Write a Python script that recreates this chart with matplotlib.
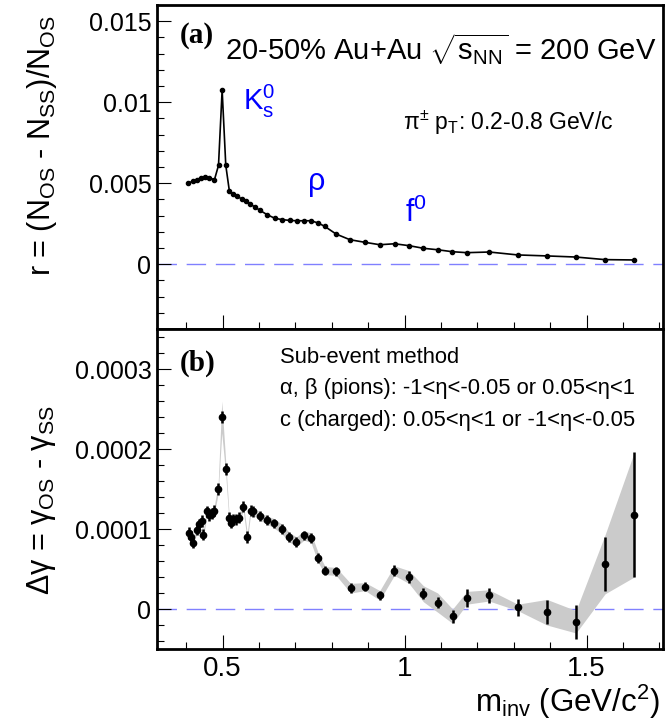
import numpy as np
import matplotlib
matplotlib.use('Agg')
import matplotlib.pyplot as plt
from matplotlib.ticker import MultipleLocator, FuncFormatter

plt.rcParams.update({
    'font.family': ['Liberation Sans', 'DejaVu Sans'],
    'mathtext.fontset': 'custom',
    'mathtext.rm': 'Liberation Sans',
    'mathtext.it': 'Liberation Sans:italic',
    'mathtext.bf': 'Liberation Sans:bold',
})

# panel (a): charge-balance ratio r vs invariant mass
m_r = [0.406, 0.418, 0.429, 0.440, 0.452, 0.464, 0.478, 0.489, 0.499, 0.509,
       0.519, 0.530, 0.541, 0.553, 0.564, 0.576, 0.589, 0.603, 0.623, 0.644,
       0.664, 0.685, 0.704, 0.724, 0.743, 0.763, 0.781, 0.812, 0.850, 0.891,
       0.932, 0.973, 1.013, 1.052, 1.091, 1.131, 1.171, 1.233, 1.311, 1.390,
       1.471, 1.551, 1.631]
r_1e3 = [5.01, 5.11, 5.22, 5.32, 5.36, 5.32, 5.22, 6.10, 10.75, 6.10,
         4.49, 4.33, 4.19, 4.02, 3.88, 3.71, 3.53, 3.32, 3.05, 2.83,
         2.75, 2.70, 2.68, 2.68, 2.68, 2.54, 2.33, 1.86, 1.51, 1.35,
         1.20, 1.26, 1.14, 0.98, 0.89, 0.77, 0.71, 0.75, 0.57, 0.51,
         0.44, 0.28, 0.26]

# panel (b): delta gamma with stat errors and systematic band (units of 1e-4)
m_dg = [0.408, 0.413, 0.418, 0.429, 0.436, 0.443, 0.447, 0.457, 0.464, 0.470,
        0.477, 0.488, 0.498, 0.509, 0.518, 0.524, 0.530, 0.537, 0.546, 0.557,
        0.568, 0.577, 0.585, 0.603, 0.623, 0.642, 0.663, 0.683, 0.703, 0.724,
        0.743, 0.763, 0.782, 0.812, 0.852, 0.892, 0.932, 0.972, 1.012, 1.052,
        1.091, 1.132, 1.171, 1.232, 1.311, 1.391, 1.471, 1.551, 1.631]
dg_1e4 = [0.95, 0.90, 0.83, 0.99, 1.06, 1.10, 0.93, 1.22, 1.17, 1.19,
          1.23, 1.50, 2.40, 1.75, 1.14, 1.08, 1.12, 1.12, 1.14, 1.28,
          0.90, 1.23, 1.22, 1.16, 1.11, 1.07, 1.00, 0.90, 0.84, 0.92,
          0.89, 0.64, 0.48, 0.47, 0.26, 0.28, 0.17, 0.48, 0.40, 0.19,
          0.08, -0.09, 0.14, 0.17, 0.02, -0.04, -0.16, 0.56, 1.18]
stat_1e4 = [0.07, 0.07, 0.07, 0.07, 0.07, 0.07, 0.07, 0.07, 0.07, 0.07,
            0.07, 0.07, 0.08, 0.07, 0.07, 0.07, 0.07, 0.07, 0.07, 0.07,
            0.07, 0.07, 0.07, 0.06, 0.06, 0.06, 0.06, 0.06, 0.06, 0.06,
            0.06, 0.06, 0.06, 0.06, 0.06, 0.06, 0.06, 0.07, 0.07, 0.07,
            0.07, 0.08, 0.11, 0.09, 0.11, 0.15, 0.21, 0.34, 0.78]
sys_1e4 = [0.05, 0.05, 0.05, 0.05, 0.05, 0.05, 0.05, 0.05, 0.05, 0.05,
           0.05, 0.06, 0.20, 0.08, 0.05, 0.05, 0.05, 0.05, 0.05, 0.05,
           0.05, 0.05, 0.05, 0.05, 0.05, 0.06, 0.06, 0.06, 0.06, 0.06,
           0.06, 0.06, 0.05, 0.05, 0.06, 0.05, 0.06, 0.06, 0.08, 0.10,
           0.12, 0.09, 0.08, 0.07, 0.04, 0.16, 0.14, 0.37, 0.78]

r = np.array(r_1e3) * 1e-3
dg = np.array(dg_1e4) * 1e-4
stat = np.array(stat_1e4) * 1e-4
sys = np.array(sys_1e4) * 1e-4


def fmt(v, pos):
    return f'{round(v, 7) + 0.0:g}'


fig = plt.figure(figsize=(6.66, 7.23), dpi=100)
ax1 = fig.add_axes([0.2357, 0.5450, 0.7598, 0.4481])
ax2 = fig.add_axes([0.2357, 0.10235, 0.7598, 0.4426])

for ax in (ax1, ax2):
    ax.set_xlim(0.32, 1.71)
    ax.xaxis.set_major_locator(MultipleLocator(0.5))
    ax.xaxis.set_minor_locator(MultipleLocator(0.1))
    ax.xaxis.set_major_formatter(FuncFormatter(fmt))
    ax.yaxis.set_major_formatter(FuncFormatter(fmt))
    ax.tick_params(which='both', direction='in', top=False, right=False, width=0.8)
    ax.tick_params(which='major', length=10)
    ax.tick_params(which='minor', length=5)
    ax.tick_params(axis='y', labelsize=18, pad=4)
    ax.tick_params(axis='x', labelsize=20, pad=5)
    for s in ax.spines.values():
        s.set_linewidth(2)
    ax.axhline(0, color='#8080ff', lw=1, dashes=(14, 7), zorder=0)

# (a)
ax1.plot(m_r, r, '-o', color='black', lw=1.2, ms=3)
ax1.set_ylim(-0.004, 0.016)
ax1.yaxis.set_major_locator(MultipleLocator(0.005))
ax1.yaxis.set_minor_locator(MultipleLocator(0.001))
ax1.tick_params(labelbottom=False)

ax1.text(0.045, 0.905, '(a)', transform=ax1.transAxes, fontsize=21,
         family='Liberation Serif', weight='bold', va='center')
ax1.text(0.134, 0.83, r'20-50% Au+Au $\sqrt{\mathrm{s}_{\mathrm{NN}}}$ = 200 GeV',
         transform=ax1.transAxes, fontsize=21, va='baseline')
ax1.text(0.486, 0.614, r'π$^{\pm}$ p$_{\mathrm{T}}$: 0.2-0.8 GeV/c',
         transform=ax1.transAxes, fontsize=16.5, va='baseline')
ax1.text(0.170, 0.676, r'K$_{\mathrm{s}}^{\mathrm{0}}$', transform=ax1.transAxes,
         fontsize=21, color='blue', va='baseline')
ax1.text(0.298, 0.429, 'ρ', transform=ax1.transAxes,
         fontsize=22, color='blue', va='baseline')
ax1.text(0.490, 0.330, r'f$^{\mathrm{0}}$', transform=ax1.transAxes,
         fontsize=22, color='blue', va='baseline')

# (b)
ax2.fill_between(m_dg, dg - sys, dg + sys, color='#cbcbcb', lw=0, zorder=1)
ax2.errorbar(m_dg, dg, yerr=stat, fmt='o', color='black', ms=4.5,
             elinewidth=1.8, capsize=0, zorder=3)
ax2.set_ylim(-0.00005, 0.00035)
ax2.yaxis.set_major_locator(MultipleLocator(0.0001))
ax2.yaxis.set_minor_locator(MultipleLocator(0.00002))

ax2.text(0.045, 0.894, '(b)', transform=ax2.transAxes, fontsize=21,
         family='Liberation Serif', weight='bold', va='center')
ax2.text(0.243, 0.894, 'Sub-event method', transform=ax2.transAxes,
         fontsize=15.8, va='baseline')
ax2.text(0.243, 0.797, 'α, β (pions): -1<η<-0.05 or 0.05<η<1',
         transform=ax2.transAxes, fontsize=15.8, va='baseline')
ax2.text(0.243, 0.697, 'c (charged): 0.05<η<1 or -1<η<-0.05',
         transform=ax2.transAxes, fontsize=15.8, va='baseline')

# axis titles
fig.text(0.063, 0.798, r'r = (N$_{\mathrm{OS}}$ - N$_{\mathrm{SS}}$)/N$_{\mathrm{OS}}$',
         rotation=90, fontsize=22, ha='center', va='center')
fig.text(0.063, 0.308, r'Δγ = γ$_{\mathrm{OS}}$ - γ$_{\mathrm{SS}}$',
         rotation=90, fontsize=22, ha='center', va='center')
fig.text(660 / 666, 1 - 712 / 723, r'm$_{\mathrm{inv}}$ (GeV/c$^{2}$)',
         fontsize=22.5, ha='right', va='baseline')

fig.savefig('out.png', dpi=100)
